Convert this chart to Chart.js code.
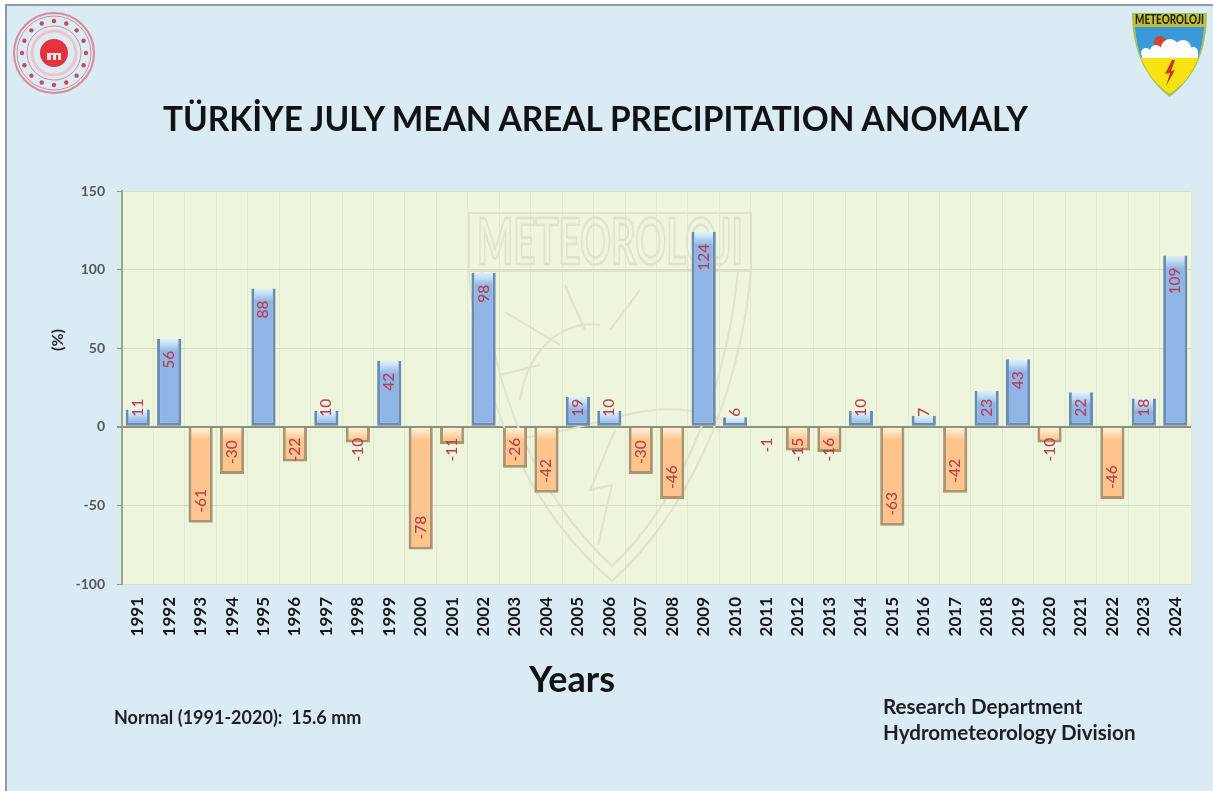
<!DOCTYPE html>
<html>
<head>
<meta charset="utf-8">
<title>Türkiye July Mean Areal Precipitation Anomaly</title>
<script src="https://cdn.jsdelivr.net/npm/chart.js@4/dist/chart.umd.min.js"></script>
<style>
  html, body { margin: 0; padding: 0; background: #fff; overflow: hidden; }
  #page { position: absolute; left: 5px; top: 4px; width: 1208px; height: 787px; box-sizing: border-box;
          background: #daebf3; border-left: 2px solid #8d9ba6; border-top: 2px solid #8d9ba6; }
  canvas { position: absolute; left: 0; top: 0; }
  .txt { position: absolute; font-family: Lato, sans-serif; font-weight: 700; color: #1c1f24; white-space: nowrap; }
  #title { left: 163px; top: 97px; font-size: 33.4px; line-height: 42px; color: #101216; }
  #years { left: 529px; top: 657px; font-size: 36px; line-height: 42px; color: #101216; }
  #normal { left: 114px; top: 707px; font-size: 18px; line-height: 20px; }
  #dept { left: 883px; top: 693px; font-size: 20.6px; line-height: 26px; }
  #unit { left: 57px; top: 340px; font-size: 16px; line-height: 20px; transform: translate(-50%, -50%) rotate(-90deg); }
</style>
</head>
<body>
<div id="page"></div>
<canvas id="anomalyChart" width="1213" height="791"></canvas>
<div class="txt" id="title">TÜRKİYE JULY MEAN AREAL PRECIPITATION ANOMALY</div>
<div class="txt" id="unit">(%)</div>
<div class="txt" id="years">Years</div>
<div class="txt" id="normal">Normal (1991-2020):&nbsp; 15.6 mm</div>
<div class="txt" id="dept">Research Department<br>Hydrometeorology Division</div>
<script>
const years = ["1991","1992","1993","1994","1995","1996","1997","1998","1999","2000","2001","2002",
  "2003","2004","2005","2006","2007","2008","2009","2010","2011","2012","2013","2014","2015","2016",
  "2017","2018","2019","2020","2021","2022","2023","2024"];
const anomaly = [11,56,-61,-30,88,-22,10,-10,42,-78,-11,98,-26,-42,19,10,-30,-46,124,6,-1,-15,-16,10,
  -63,7,-42,23,43,-10,22,-46,18,109];
const yTicks = [-100,-50,0,50,100,150];

const FONT = "Lato, sans-serif";

// light cap at the top of every bar, then flat colour
function barFill(ctx) {
  if (ctx.type !== "data") return "#8fb4e6";
  const v = ctx.raw;
  const flat = v >= 0 ? "#8fb4e6" : "#fdc48c";
  const top = ctx.chart.scales.y.getPixelForValue(Math.max(v, 0));
  if (!isFinite(top)) return flat;
  const g = ctx.chart.ctx.createLinearGradient(0, top, 0, top + 13);
  g.addColorStop(0, v >= 0 ? "#dff2fb" : "#fff3de");
  g.addColorStop(0.35, v >= 0 ? "#c6e2f6" : "#ffe6c4");
  g.addColorStop(1, flat);
  return g;
}

const plotBackground = {
  id: "plotBackground",
  beforeDraw(chart) {
    const a = chart.chartArea, c = chart.ctx;
    c.save();
    c.fillStyle = "#edf5dd";
    c.fillRect(a.left, a.top, a.width, a.height);
    c.restore();
  }
};

// faint shield behind the bars
const watermark = {
  id: "watermark",
  beforeDatasetsDraw(chart) {
    const c = chart.ctx;
    c.save();
    c.strokeStyle = "#e1e2cb";
    c.lineWidth = 2;
    c.beginPath();
    c.rect(469, 213, 282, 58);
    c.moveTo(469, 271);
    c.bezierCurveTo(478, 400, 530, 510, 612, 581);
    c.bezierCurveTo(680, 520, 738, 410, 751, 271);
    c.moveTo(482, 271);
    c.bezierCurveTo(492, 395, 540, 500, 612, 566);
    c.bezierCurveTo(672, 510, 725, 405, 738, 271);
    // sun and cloud
    c.moveTo(520, 400);
    c.bezierCurveTo(530, 340, 570, 320, 600, 325);
    c.moveTo(505, 440);
    c.bezierCurveTo(560, 435, 600, 420, 640, 412);
    c.bezierCurveTo(680, 405, 700, 412, 722, 420);
    c.moveTo(560, 345); c.lineTo(505, 312);
    c.moveTo(585, 330); c.lineTo(565, 285);
    c.moveTo(610, 330); c.lineTo(640, 290);
    c.moveTo(540, 365); c.lineTo(500, 375);
    // lightning
    c.moveTo(615, 430); c.lineTo(590, 490); c.lineTo(612, 485); c.lineTo(598, 545);
    c.stroke();
    c.font = "700 64px " + FONT;
    c.textAlign = "center";
    c.textBaseline = "middle";
    c.translate(610, 243);
    c.scale(0.6, 1);
    c.lineWidth = 2.5;
    c.strokeText("METEOROLOJI", 0, 0);
    c.restore();
  }
};

function drawSeal(c) {
  c.save();
  c.translate(54, 53);
  c.strokeStyle = "#d98b98";
  c.lineWidth = 2;
  c.beginPath(); c.arc(0, 0, 40, 0, Math.PI * 2); c.stroke();
  c.lineWidth = 1;
  c.beginPath(); c.arc(0, 0, 37, 0, Math.PI * 2); c.stroke();
  c.beginPath(); c.arc(0, 0, 27, 0, Math.PI * 2); c.stroke();
  c.strokeStyle = "#eec3c8";
  c.lineWidth = 3;
  c.beginPath(); c.arc(0, 0, 22, 0, Math.PI * 2); c.stroke();
  c.fillStyle = "#c44a60";
  for (let i = 0; i < 16; i++) {
    const t = i * Math.PI / 8;
    c.beginPath(); c.arc(Math.cos(t) * 32, Math.sin(t) * 32, 2.2, 0, Math.PI * 2); c.fill();
  }
  c.fillStyle = "#e5323f";
  c.beginPath(); c.arc(0, 0, 14, 0, Math.PI * 2); c.fill();
  c.fillStyle = "#fbe3e0";
  c.fillRect(-7, 0, 14, 7);
  c.fillStyle = "#e5323f";
  c.fillRect(-3, 2, 2, 5);
  c.fillRect(2, 2, 2, 5);
  c.restore();
}

function shieldPath(c, inset) {
  c.beginPath();
  c.moveTo(1132 + inset, 13 + inset);
  c.lineTo(1207 - inset, 13 + inset);
  c.bezierCurveTo(1207 - inset, 50, 1195, 78, 1169.5, 97 - inset * 1.4);
  c.bezierCurveTo(1145, 78, 1132 + inset, 50, 1132 + inset, 13 + inset);
  c.closePath();
}

function drawShieldLogo(c) {
  c.save();
  c.fillStyle = "#a8c25a";
  shieldPath(c, 0);
  c.fill();
  shieldPath(c, 2.5);
  c.clip();
  c.fillStyle = "#f7e312";
  c.fillRect(1130, 12, 80, 90);
  c.fillStyle = "#3a9ad9";
  c.fillRect(1130, 27, 80, 30);
  c.fillStyle = "#c4bd3c";
  c.fillRect(1130, 12, 80, 15);
  // sun
  c.fillStyle = "#d9422a";
  c.beginPath(); c.arc(1160, 42, 6, 0, Math.PI * 2); c.fill();
  // cloud
  c.fillStyle = "#ffffff";
  [[1146, 53, 5], [1156, 51, 6], [1170, 48, 9], [1183, 48, 8], [1193, 52, 5]].forEach(p => {
    c.beginPath(); c.arc(p[0], p[1], p[2], 0, Math.PI * 2); c.fill();
  });
  c.fillRect(1142, 52, 56, 6);
  // lightning
  c.fillStyle = "#c8321e";
  c.beginPath();
  c.moveTo(1172, 60); c.lineTo(1165, 74); c.lineTo(1170, 73); c.lineTo(1166, 86);
  c.lineTo(1175, 70); c.lineTo(1171, 71); c.lineTo(1175, 60);
  c.closePath(); c.fill();
  c.restore();
  c.save();
  c.fillStyle = "#26260c";
  c.font = "900 13px " + FONT;
  c.textAlign = "center";
  c.textBaseline = "middle";
  c.translate(1169.5, 20);
  c.scale(0.76, 1);
  c.fillText("METEOROLOJI", 0, 0);
  c.restore();
}

const logos = {
  id: "logos",
  afterDraw(chart) {
    drawSeal(chart.ctx);
    drawShieldLogo(chart.ctx);
  }
};

// value labels turned 90 degrees, near the bar end, kept clear of the zero line on short bars
const barLabels = {
  id: "barLabels",
  afterDatasetsDraw(chart) {
    const c = chart.ctx;
    const zero = chart.scales.y.getPixelForValue(0);
    const bars = chart.getDatasetMeta(0).data;
    c.save();
    c.font = "500 15.5px " + FONT;
    c.fillStyle = "#b93f4e";
    c.textBaseline = "middle";
    c.textAlign = "left";
    bars.forEach((bar, i) => {
      const text = String(anomaly[i]);
      const w = c.measureText(text).width;
      let start;
      if (anomaly[i] >= 0) {
        start = Math.min(bar.y + 12 + w, zero - 10);
      } else {
        start = Math.max(bar.y - 10, zero + 11 + w);
      }
      c.save();
      c.translate(bar.x, start);
      c.rotate(-Math.PI / 2);
      c.fillText(text, 0, 0);
      c.restore();
    });
    c.restore();
  }
};

new Chart(document.getElementById("anomalyChart"), {
  type: "bar",
  data: {
    labels: years,
    datasets: [{
      data: anomaly,
      backgroundColor: barFill,
      borderColor: ctx => ctx.raw >= 0 ? "#6b8bb4" : "#ad9472",
      borderWidth: { left: 3, right: 3, top: 0, bottom: 3 },
      borderSkipped: false,
      barPercentage: 0.77,
      categoryPercentage: 1
    }]
  },
  options: {
    responsive: false,
    animation: false,
    layout: { padding: { left: 47, right: 22, top: 191, bottom: 91 } },
    plugins: { legend: { display: false }, tooltip: { enabled: false } },
    scales: {
      x: {
        afterFit: s => { s.height = 116; },
        grid: { color: "#e1e9cf", lineWidth: 1, drawTicks: false },
        border: { color: "#d5dcc4", width: 1 },
        ticks: {
          minRotation: 90, maxRotation: 90, padding: 13, autoSkip: false,
          color: "#14161a", font: { family: FONT, size: 17, weight: "700" }
        }
      },
      y: {
        min: -100,
        max: 150,
        afterFit: s => { s.width = 75; },
        afterBuildTicks: s => { s.ticks = yTicks.map(v => ({ value: v })); },
        grid: {
          color: ctx => ctx.tick.value === 0 ? "#8b9178" : "#d6dcc0",
          lineWidth: ctx => ctx.tick.value === 0 ? 2 : 1,
          tickLength: 5,
          tickColor: "#8e9a88"
        },
        border: { color: "#9aa58e", width: 2 },
        ticks: {
          padding: 12, color: "#55595c",
          font: { family: FONT, size: 14, weight: "700" }
        }
      }
    }
  },
  plugins: [plotBackground, watermark, barLabels, logos]
});
</script>
</body>
</html>
